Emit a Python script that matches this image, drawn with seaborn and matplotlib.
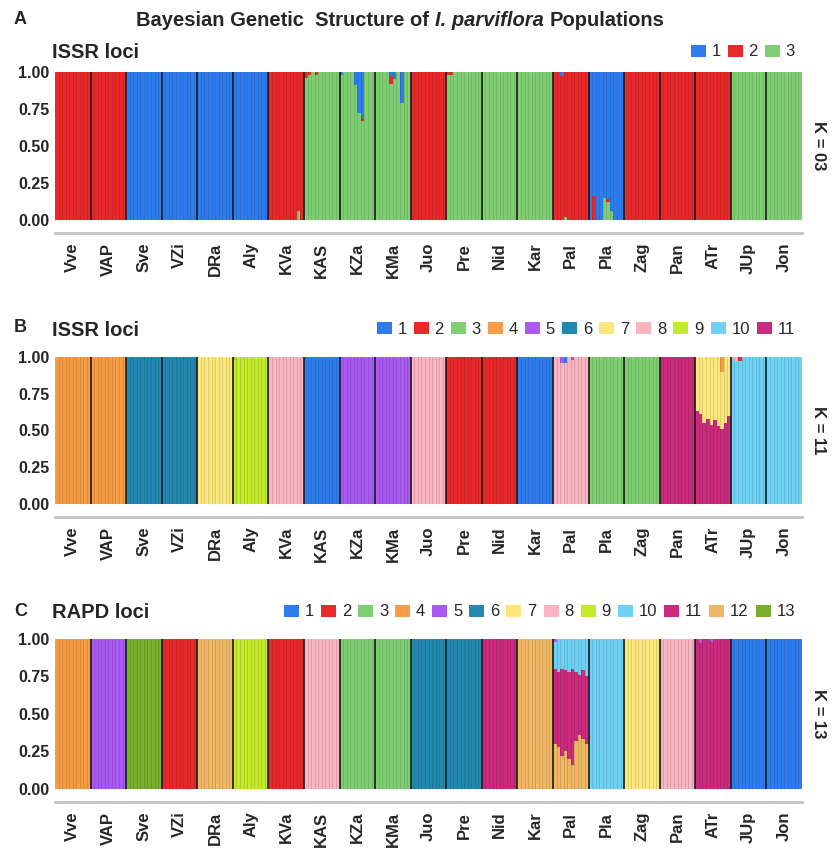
import numpy as np
import matplotlib
matplotlib.use("Agg")
import matplotlib.pyplot as plt
from matplotlib.patches import Patch
import seaborn as sns

# ---------------------------------------------------------------- data
POPS = ["Vve", "VAP", "Sve", "VZi", "DRa", "Aly", "KVa", "KAS", "KZa", "KMa", "Juo",
        "Pre", "Nid", "Kar", "Pal", "Pla", "Zag", "Pan", "ATr", "JUp", "Jon"]
N_IND = 10  # individuals per population

CLUSTER_COLORS = ["#2f7ded", "#e8282b", "#7fcf72", "#f79c45", "#a95af2", "#2389b0",
                  "#fbe77c", "#f8b4c0", "#c4ea2c", "#6fd2f4", "#cc2a7f", "#efb663",
                  "#7aae2e"]

# Panel A: ISSR, K = 3 -- dominant cluster of each population
ISSR3_MAJOR = [2, 2, 1, 1, 1, 1, 2, 3, 3, 3, 2, 3, 3, 3, 2, 1, 2, 2, 2, 3, 3]
# admixed individuals: (population, individual) -> {cluster: membership}
ISSR3_MINOR = {
    ("KVa", 8): {3: 0.06},
    ("KAS", 0): {2: 0.04}, ("KAS", 1): {2: 0.02}, ("KAS", 3): {2: 0.02},
    ("KZa", 0): {1: 0.02}, ("KZa", 4): {1: 0.09}, ("KZa", 5): {1: 0.28},
    ("KZa", 6): {1: 0.31, 2: 0.02},
    ("KMa", 4): {1: 0.03, 2: 0.05}, ("KMa", 5): {1: 0.05}, ("KMa", 7): {1: 0.21},
    ("Pre", 0): {2: 0.02}, ("Pre", 1): {2: 0.02},
    ("Pal", 2): {1: 0.03}, ("Pal", 3): {3: 0.02},
    ("Pla", 1): {2: 0.16}, ("Pla", 4): {3: 0.15}, ("Pla", 5): {3: 0.12, 2: 0.02},
    ("Pla", 6): {3: 0.06},
}

# Panel B: ISSR, K = 11
ISSR11_MAJOR = [4, 4, 6, 6, 7, 9, 8, 1, 5, 5, 8, 2, 2, 1, 8, 3, 3, 11, 11, 10, 10]
ISSR11_ATR_Q7 = [0.37, 0.39, 0.45, 0.42, 0.46, 0.43, 0.47, 0.39, 0.45, 0.40]
ISSR11_MINOR = {
    ("ATr", 7): {4: 0.10},
    ("Pal", 2): {5: 0.04}, ("Pal", 3): {1: 0.04}, ("Pal", 5): {5: 0.02},
    ("JUp", 1): {8: 0.03}, ("JUp", 2): {2: 0.03},
    ("Aly", 0): {3: 0.02},
}

# Panel C: RAPD, K = 13
RAPD13_MAJOR = [4, 5, 13, 2, 12, 9, 2, 8, 3, 3, 6, 6, 11, 12, 11, 10, 7, 8, 11, 1, 1]
RAPD13_PAL_Q10 = [0.18, 0.22, 0.20, 0.21, 0.22, 0.20, 0.22, 0.24, 0.21, 0.25]
RAPD13_PAL_Q12 = [0.30, 0.28, 0.22, 0.25, 0.20, 0.16, 0.32, 0.36, 0.33, 0.30]
RAPD13_MINOR = {
    ("ATr", 1): {5: 0.03}, ("ATr", 4): {5: 0.02},
    ("Pal", 0): {5: 0.02},
}

Y_TICKS = [0.0, 0.25, 0.50, 0.75, 1.0]
Y_TICK_LABELS = ["0.00", "0.25", "0.50", "0.75", "1.00"]

# ---------------------------------------------------------------- helpers
def membership(major, minor, K):
    q = np.zeros((len(POPS) * N_IND, K))
    for p, m in enumerate(major):
        q[p * N_IND:(p + 1) * N_IND, m - 1] = 1.0
    for (pop, i), parts in minor.items():
        row = POPS.index(pop) * N_IND + i
        m = major[POPS.index(pop)]
        for k, v in parts.items():
            q[row, k - 1] += v
            q[row, m - 1] -= v
    return q


def draw_structure(ax, q):
    n, K = q.shape
    x = np.arange(n)
    # cluster 1 sits on top of each bar, cluster K at the bottom
    tops = np.cumsum(q[:, ::-1], axis=1)[:, ::-1]
    for k in range(K):
        sns.barplot(x=x, y=tops[:, k], color=CLUSTER_COLORS[k], width=1,
                    saturation=1, linewidth=0, errorbar=None,
                    native_scale=True, ax=ax)
    # individual and population separators
    ax.vlines(x[1:] - 0.5, 0, 1, color="black", alpha=0.14, lw=0.6)
    bounds = np.arange(1, len(POPS)) * N_IND - 0.5
    ax.vlines(bounds, 0, 1, color="#1a1a1a", alpha=0.85, lw=1.4)

    ax.set_xlim(-0.5, n - 0.5)
    ax.set_ylim(-0.09, 1.0)
    centers = np.arange(len(POPS)) * N_IND + (N_IND - 1) / 2
    ax.set_xticks(centers)
    ax.set_xticklabels(POPS, rotation=90, fontsize=12, fontweight="bold")
    ax.set_xticks(np.arange(len(POPS) + 1) * N_IND - 0.5, minor=True)
    ax.tick_params(axis="x", which="major", length=0, pad=7)
    ax.tick_params(axis="x", which="minor", length=6, width=1,
                   direction="inout", color="#b5b5b5")
    ax.set_yticks(Y_TICKS)
    ax.set_yticklabels(Y_TICK_LABELS, fontsize=11.5, fontweight="bold")
    ax.tick_params(axis="y", length=0, pad=4)
    for s in ("top", "right", "left"):
        ax.spines[s].set_visible(False)
    ax.spines["bottom"].set_color("#c2c2c2")
    ax.spines["bottom"].set_linewidth(2)
    ax.set_xlabel("")
    ax.set_ylabel("")


# ---------------------------------------------------------------- figure
sns.set_theme(style="white")
plt.rcParams["font.family"] = ["Liberation Sans", "DejaVu Sans"]

W, H = 834, 857
fig = plt.figure(figsize=(W / 100, H / 100), dpi=100)


def px_axes(left, top, right, bottom):
    return fig.add_axes([left / W, 1 - bottom / H, (right - left) / W, (bottom - top) / H])


q3 = membership(ISSR3_MAJOR, ISSR3_MINOR, 3)

minor11 = dict(ISSR11_MINOR)
for i, v in enumerate(ISSR11_ATR_Q7):
    minor11.setdefault(("ATr", i), {})
    minor11[("ATr", i)][7] = v
q11 = membership(ISSR11_MAJOR, minor11, 11)

minor13 = dict(RAPD13_MINOR)
for i, (a, b) in enumerate(zip(RAPD13_PAL_Q10, RAPD13_PAL_Q12)):
    minor13.setdefault(("Pal", i), {})
    minor13[("Pal", i)][10] = a
    minor13[("Pal", i)][12] = b
q13 = membership(RAPD13_MAJOR, minor13, 13)

panels = [
    # q, axes box (px), letter, letter y, subtitle, K label, header y
    (q3, (55, 72, 802, 233), "A", 19, "ISSR loci", "K = 03", 53),
    (q11, (55, 357, 802, 517), "B", 328, "ISSR loci", "K = 11", 330),
    (q13, (55, 639, 802, 802), "C", 612, "RAPD loci", "K = 13", 613),
]

for q, box, letter, lety, sub, klabel, ly in panels:
    ax = px_axes(*box)
    draw_structure(ax, q)
    K = q.shape[1]
    handles = [Patch(facecolor=CLUSTER_COLORS[k], edgecolor="none") for k in range(K)]
    fig.legend(handles, [str(k + 1) for k in range(K)], ncol=K, loc="center right",
               bbox_to_anchor=(795 / W, 1 - (ly - 1) / H), frameon=False, fontsize=12,
               handlelength=0.9, handleheight=0.75, handletextpad=0.35,
               columnspacing=0.42, borderpad=0, borderaxespad=0)
    fig.text(14 / W, 1 - lety / H, letter,
             fontsize=13, fontweight="bold", va="center", ha="left")
    fig.text(52 / W, 1 - ly / H, sub, fontsize=14.5, fontweight="bold",
             va="center", ha="left")
    mid = (box[1] + box[3] - 13) / 2
    fig.text(818 / W, 1 - mid / H, klabel, rotation=270, fontsize=12,
             fontweight="bold", va="center", ha="center")

# title with italic species name
renderer = fig.canvas.get_renderer()
pieces = [("Bayesian Genetic  Structure of", "normal"),
          ("I. parviflora", "italic"),
          ("Populations", "normal")]
texts = [fig.text(0, 0, s, fontsize=14.5, fontweight="bold", style=st,
                  va="center", ha="left") for s, st in pieces]
widths = [t.get_window_extent(renderer).width for t in texts]
gap = 14.5 * 0.3 * 100 / 72
x = 400 - (sum(widths) + gap * (len(texts) - 1)) / 2
for t, w in zip(texts, widths):
    t.set_position((x / W, 1 - 20 / H))
    x += w + gap

fig.savefig("out.png", dpi=100)
